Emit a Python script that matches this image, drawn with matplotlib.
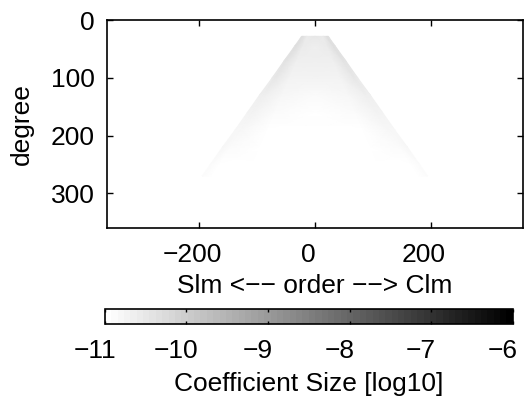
import numpy as np
import matplotlib
matplotlib.use('Agg')
import matplotlib.pyplot as plt
from matplotlib.transforms import ScaledTranslation

plt.rcParams['font.family'] = ['Liberation Sans', 'DejaVu Sans']
plt.rcParams['font.size'] = 19

# degree knots of the coefficient triangle, with the highest order present at each
knot_deg = [28, 45, 70, 100, 130, 160, 190, 220, 250, 270]
knot_edge = [23, 35, 53, 74, 96, 117, 138, 160, 181, 195]
# log10 coefficient size: at the rim, inner side strip, half way, centre
edge_val = [-10.42, -10.40, -10.45, -10.55, -10.65, -10.72, -10.78, -10.83, -10.88, -10.92]
side_val = [-10.35, -10.36, -10.42, -10.52, -10.64, -10.74, -10.82, -10.88, -10.93, -10.97]
mid_val = [-10.55, -10.60, -10.66, -10.74, -10.84, -10.92, -10.97, -11.0, -11.0, -11.0]
core_val = [-10.50, -10.66, -10.66, -10.74, -10.86, -10.95, -11.0, -11.0, -11.0, -11.0]

cbar_ticks = [-11, -10, -9, -8, -7, -6]

frac = np.array([-1, -0.92, -0.6, 0, 0.6, 0.92, 1])
X = np.outer(knot_edge, frac)
Y = np.repeat(np.array(knot_deg, dtype=float)[:, None], len(frac), axis=1)
C = np.column_stack([edge_val, side_val, mid_val, core_val, mid_val, side_val, edge_val])

fig = plt.figure(figsize=(5.32, 4.03), dpi=100)
ax = fig.add_axes([0.201, 0.434, 0.782, 0.516])
cmap = plt.get_cmap('gray_r', 64)
mesh = ax.pcolormesh(X, Y, C, shading='gouraud', cmap=cmap, vmin=-11, vmax=-6)

ax.set_xlim(-360, 360)
ax.set_ylim(360, 0)
ax.set_xticks([-200, 0, 200])
ax.set_yticks([0, 100, 200, 300])
ax.tick_params(direction='in', top=True, right=True, length=4, width=1)
ax.tick_params(axis='x', pad=11)
ax.tick_params(axis='y', pad=9)
for s in ax.spines.values():
    s.set_linewidth(1.2)
ax.set_xlabel('Slm <−− order −−> Clm', labelpad=5)
ax.set_ylabel('degree', labelpad=12)

cax = fig.add_axes([0.197, 0.196, 0.767, 0.037])
cb = fig.colorbar(mesh, cax=cax, orientation='horizontal')
cb.set_ticks(cbar_ticks)
cax.tick_params(direction='in', top=True, bottom=True, length=2.5, width=1, pad=11)
cb.outline.set_linewidth(1.2)
cb.set_label('Coefficient Size [log10]', labelpad=6)

# labels in the original sit a little left of their ticks
for lab in ax.get_xticklabels():
    lab.set_transform(lab.get_transform() + ScaledTranslation(-7 / 100, 0, fig.dpi_scale_trans))
for lab in cax.get_xticklabels():
    lab.set_transform(lab.get_transform() + ScaledTranslation(-10 / 100, 0, fig.dpi_scale_trans))

fig.savefig('out.png', dpi=100)
